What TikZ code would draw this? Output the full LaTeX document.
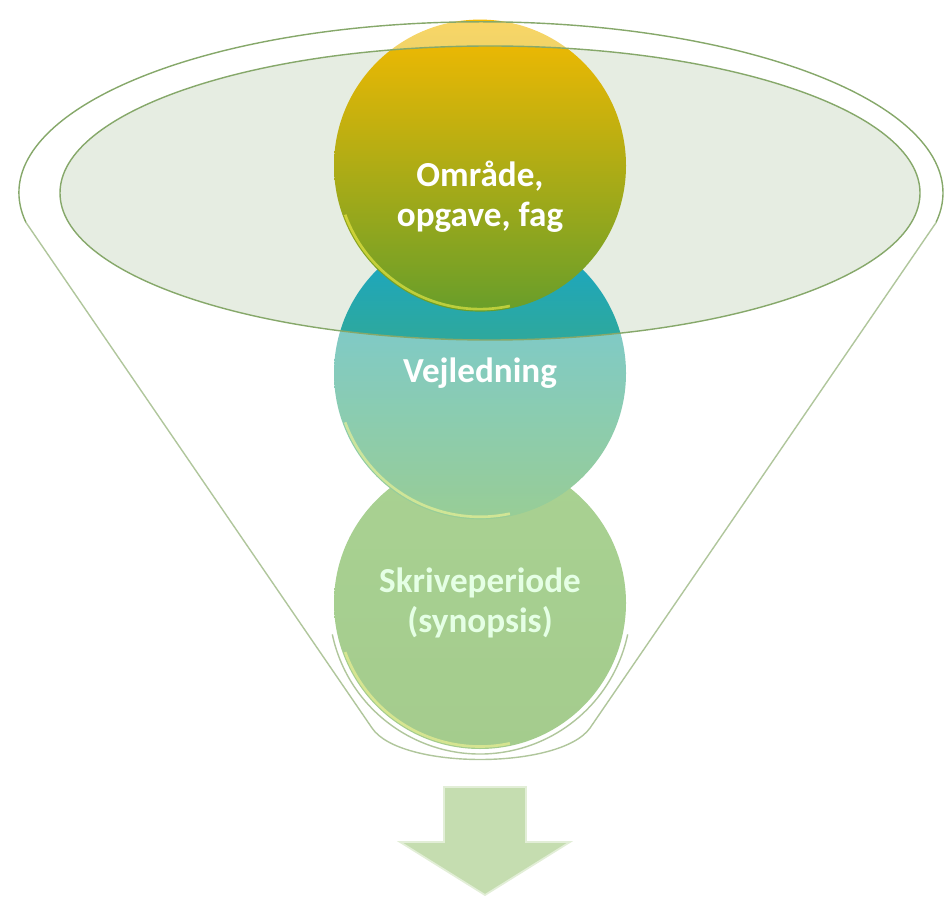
\documentclass[tikz,border=0pt]{standalone}
\usepackage{fontspec}
\setmainfont{Carlito}
\usetikzlibrary{positioning}
\definecolor{rand}{RGB}{134,168,106}
\definecolor{randlys}{RGB}{176,198,156}
\definecolor{aabning}{RGB}{230,237,226}
\definecolor{omrtop}{RGB}{246,186,0}
\definecolor{omrmidt}{RGB}{204,178,22}
\definecolor{omrbund}{RGB}{104,158,42}
\definecolor{vejtop}{RGB}{22,166,204}
\definecolor{vejbund}{RGB}{84,172,80}
\definecolor{skrivtop}{RGB}{112,180,74}
\definecolor{skrivbund}{RGB}{104,170,66}
\definecolor{pilfarve}{RGB}{197,221,176}
\tikzset{
	% kuglerne i tragten
	kugle/.style={
		circle,
		inner sep=0,
		minimum size=5.84cm},
	% hvid fed tekst
	tekst/.style={
		text=white,
		align=center,
		font=\bfseries\fontsize{20}{23}\selectfont},
	% tragtens streg
	kant/.style={
		draw=rand,
		line width=0.8pt}
}

\begin{document}
\begin{tikzpicture}
	\useasboundingbox (0,0) rectangle (18.94,17.92);
	\coordinate (OT) at (9.62,14.06);
	\coordinate (OI) at (9.80,14.06);
	\coordinate (VB) at (0.52,13.47);
	\coordinate (VN) at (7.44,3.36);
	\coordinate (HN) at (11.80,3.36);
	\fill[aabning] (OI) ellipse (8.6cm and 2.94cm);
	\node[kugle,top color=skrivtop,bottom color=skrivbund] (skriv) at (9.60,5.86) {};
	\node[kugle,top color=vejtop,bottom color=vejbund,above=-1.26cm of skriv] (vejl) {};
	\node[kugle,top color=omrtop,middle color=omrmidt,bottom color=omrbund,above=-1.70cm of vejl] (omr) {};
	\foreach \k in {omr,vejl,skriv}
		\draw[white!30!yellow,line width=1.5pt,opacity=0.55] ([shift={(200:2.87cm)}]\k.center) arc[start angle=200,end angle=282,radius=2.87cm];
	% tragten lysner kuglerne uden for aabningen
	\fill[white,fill opacity=0.4,even odd rule] (VB) arc[start angle=190,end angle=-10,x radius=9.24cm,y radius=3.42cm] -- (HN) .. controls (11.2,2.52) and (8.0,2.52) .. (VN) -- cycle (OI) ellipse (8.6cm and 2.94cm);
	\draw[kant] (VB) arc[start angle=190,end angle=-10,x radius=9.24cm,y radius=3.42cm];
	\draw[kant,draw=randlys] (VB) -- (VN) .. controls (8.0,2.52) and (11.2,2.52) .. (HN) -- ([shift={(-10:9.24cm and 3.42cm)}]OT);
	\draw[kant] (OI) ellipse (8.6cm and 2.94cm);
	\draw[kant,draw=randlys] ([shift={(192:3.02cm)}]skriv.center) arc[start angle=192,end angle=348,radius=3.02cm];
	\node[tekst] (t1) at ([yshift=-0.62cm]omr.center) {Område,\\opgave, fag};
	\node[tekst] (t2) at (vejl.center) {Vejledning};
	\node[tekst,text=white!90!green] (t3) at (skriv.center) {Skriveperiode\\(synopsis)};
	% pil nedad
	\coordinate (pil) at (9.70,2.18);
	\fill[pilfarve,draw=white!50!pilfarve,line width=1pt] ([xshift=-0.82cm]pil) -- ([xshift=0.82cm]pil) -- ++(0,-1.10) -- ++(0.88,0) -- (9.70,0.02) -- (8.00,1.08) -- ++(0.88,0) -- cycle;
\end{tikzpicture}
\end{document}
